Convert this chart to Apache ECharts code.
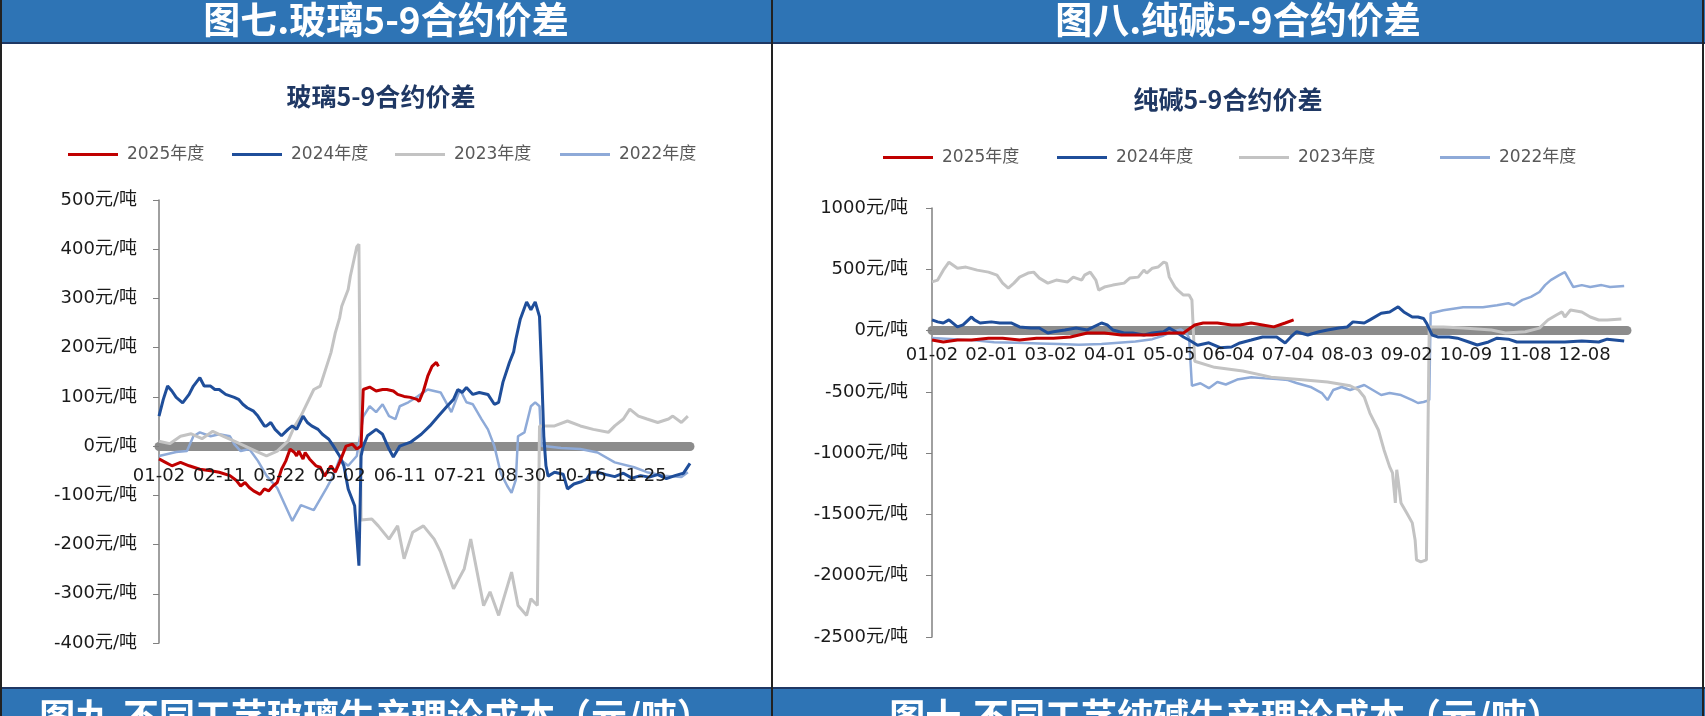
<!DOCTYPE html>
<html><head><meta charset="utf-8">
<script src="https://cdn.jsdelivr.net/npm/echarts@6/dist/echarts.min.js"></script>
<style>html,body{margin:0;padding:0;background:#fff}#c{width:1705px;height:716px}</style>
</head><body><div id="c"></div>
<script>
// ---------- tick labels ----------
const glassLabels = ['01-02','02-11','03-22','05-02','06-11','07-21','08-30','10-16','11-25'];
const sodaLabels = ['01-02','02-01','03-02','04-01','05-05','06-04','07-04','08-03','09-02','10-09','11-08','12-08'];
const seriesNames = ['2025年度','2024年度','2023年度','2022年度'];

// ---------- glass 5-9 spread [trading-day index, yuan/t] ----------
const glass2025 = [[0,-26],[3,-33],[6,-40],[10,-33],[14,-40],[19,-47],[24,-50],[28,-53],[33,-60],[36,-70],[38,-81],[40,-74],[42,-84],[44,-91],[47,-98],[49,-87],[51,-91],[53,-81],[55,-74],[57,-47],[59,-30],[61,-6],[63,-13],[64,-20],[65,-10],[67,-26],[68,-13],[70,-26],[73,-40],[75,-43],[77,-61],[80,-40],[82,-53],[84,-33],[87,0],[90,4],[92,-6],[94,0],[95,115],[98,120],[101,112],[104,115],[106,115],[109,112],[111,105],[114,101],[117,99],[120,95],[121,91],[123,112],[125,142],[127,162],[129,170],[130,162]];
const glass2024 = [[0,61],[2,95],[4,122],[6,112],[8,99],[11,88],[14,105],[16,122],[19,139],[21,122],[24,122],[26,115],[28,115],[31,105],[35,99],[37,95],[39,85],[41,78],[44,71],[46,61],[49,41],[50,41],[52,48],[54,34],[57,21],[60,34],[62,41],[64,34],[67,61],[69,48],[71,41],[74,34],[76,24],[79,14],[81,1],[84,-20],[86,-40],[88,-87],[91,-121],[93,-243],[94,-20],[95,0],[97,21],[101,34],[104,24],[107,-6],[109,-22],[112,0],[117,8],[122,24],[126,41],[130,61],[134,81],[137,95],[139,115],[141,109],[143,119],[146,105],[149,109],[153,105],[156,85],[158,89],[160,130],[163,170],[165,192],[166,217],[168,257],[171,293],[173,277],[175,293],[177,263],[178,150],[179,20],[180,-40],[181,-61],[184,-53],[188,-57],[190,-87],[193,-77],[196,-73],[199,-67],[201,-53],[204,-53],[208,-58],[212,-62],[216,-55],[220,-65],[224,-60],[228,-63],[232,-58],[236,-66],[240,-60],[244,-55],[247,-35]];
const glass2023 = [[0,10],[5,5],[10,20],[15,25],[20,15],[25,30],[30,20],[35,10],[40,0],[45,-10],[50,-20],[55,-10],[60,10],[63,40],[66,61],[72,115],[75,122],[80,190],[82,230],[84,260],[85,284],[88,318],[89,345],[90,365],[92,405],[93,410],[94,-150],[99,-148],[102,-162],[107,-189],[111,-162],[114,-229],[118,-175],[123,-162],[128,-189],[131,-215],[137,-290],[142,-249],[145,-189],[151,-324],[154,-296],[158,-344],[164,-256],[167,-324],[171,-344],[173,-310],[176,-324],[177,41],[179,41],[184,41],[190,51],[196,41],[202,34],[209,28],[212,41],[216,55],[219,75],[223,61],[227,55],[232,48],[237,55],[239,61],[243,48],[246,61]];
const glass2022 = [[0,-20],[8,-12],[13,-10],[16,20],[19,28],[24,20],[28,24],[33,20],[35,4],[38,-10],[42,-6],[46,-30],[50,-60],[55,-85],[62,-152],[66,-120],[72,-130],[78,-85],[81,-61],[84,-26],[88,-40],[92,-20],[95,60],[98,81],[101,69],[104,85],[107,61],[110,55],[112,81],[116,89],[120,100],[125,115],[131,109],[136,69],[140,115],[143,89],[146,85],[150,55],[153,34],[156,0],[159,-55],[162,-81],[164,-95],[166,-68],[167,20],[170,28],[173,81],[175,89],[177,81],[178,0],[179,0],[187,-4],[196,-6],[204,-13],[212,-33],[221,-43],[227,-53],[235,-60],[243,-63],[246,-53]];

// ---------- soda ash 5-9 spread ----------
const soda2025 = [[0,-77],[4,-93],[9,-77],[14,-77],[20,-62],[25,-62],[31,-77],[37,-62],[43,-62],[49,-52],[55,-20],[61,-20],[67,-36],[73,-36],[78,-36],[84,-20],[89,-20],[93,46],[96,62],[101,62],[106,46],[109,46],[113,62],[117,46],[121,30],[125,62],[128,87]];
const soda2024 = [[0,87],[2,71],[4,62],[6,87],[9,30],[11,46],[14,111],[15,87],[17,62],[21,71],[24,62],[28,62],[31,30],[35,21],[38,21],[41,-20],[43,-10],[47,5],[51,21],[55,5],[60,62],[62,46],[64,5],[68,-20],[71,-20],[75,-36],[78,-20],[82,-10],[84,21],[87,-20],[89,-52],[91,-77],[94,-120],[98,-100],[102,-140],[106,-134],[109,-101],[113,-77],[117,-52],[122,-52],[125,-101],[127,-52],[129,-10],[133,-36],[137,-10],[140,5],[144,21],[147,30],[149,71],[153,62],[155,87],[159,141],[162,152],[165,194],[167,152],[170,111],[172,111],[174,98],[175,62],[177,-36],[179,-52],[183,-52],[186,-62],[190,-93],[193,-118],[197,-93],[200,-62],[204,-70],[207,-93],[212,-93],[218,-93],[224,-93],[230,-85],[236,-93],[239,-70],[245,-85]];
const soda2023 = [[0,397],[2,412],[4,493],[6,558],[9,509],[12,518],[16,493],[20,477],[23,452],[25,387],[27,347],[29,387],[31,436],[34,469],[36,477],[38,428],[41,387],[44,412],[48,397],[50,436],[53,412],[54,452],[56,477],[58,412],[59,330],[61,355],[64,371],[68,387],[70,428],[73,436],[75,493],[76,469],[78,509],[80,518],[82,558],[83,550],[84,436],[86,355],[87,330],[89,290],[91,290],[92,250],[93,-250],[100,-300],[110,-330],[120,-380],[130,-400],[140,-420],[148,-450],[151,-485],[153,-542],[155,-673],[158,-811],[160,-974],[162,-1112],[163,-1161],[164,-1406],[164.5,-1136],[165,-1218],[166,-1406],[168,-1487],[170,-1569],[171,-1708],[171.5,-1871],[173,-1887],[175,-1871],[176,30],[177,30],[181,30],[188,20],[198,5],[203,-20],[210,-10],[215,20],[218,86],[221,127],[223,152],[224,111],[226,168],[230,152],[233,111],[236,86],[239,86],[244,94]];
const soda2022 = [[0,-60],[8,-70],[15,-80],[22,-95],[30,-100],[38,-105],[45,-110],[52,-115],[60,-110],[66,-100],[72,-90],[78,-70],[82,-40],[85,-10],[88,10],[90,-20],[91,-60],[92,-450],[95,-430],[98,-470],[101,-420],[104,-440],[108,-400],[113,-380],[118,-390],[122,-395],[126,-404],[129,-428],[134,-460],[138,-510],[140,-567],[142,-485],[145,-460],[148,-485],[153,-444],[156,-485],[159,-526],[162,-510],[166,-526],[170,-567],[172,-591],[174,-583],[176,-567],[176.5,141],[181,166],[188,190],[195,190],[200,207],[204,223],[206,207],[209,250],[212,275],[215,315],[217,371],[219,412],[222,452],[224,477],[225,436],[227,355],[230,371],[233,355],[237,371],[240,355],[245,363]];

const colors = ['#c00000','#1f4e9a','#c3c3c3','#8eaad8'];
const widths = [3,3,3,2.5];

const chart = echarts.init(document.getElementById('c'));
const FONT = '"DejaVu Sans", "Noto Sans CJK SC", sans-serif';

function mkSeries(arrs, idx){
  return arrs.map((d,k)=>({
    name: seriesNames[k], type:'line', xAxisIndex: idx, yAxisIndex: idx,
    data: d, showSymbol:false, symbol:'none', animation:false,
    lineStyle:{color:colors[k], width:widths[k]}, itemStyle:{color:colors[k]},
    z: 10 - k
  }));
}
function mkLegend(name, left, top){
  return {data:[name], left:left, top:top, icon:'rect', itemWidth:50, itemHeight:3,
    selectedMode:false, textStyle:{fontSize:17, color:'#595959', fontFamily:FONT, padding:[0,0,0,4]}};
}
const gLeft=[63,227,390,555], sLeft=[878,1052,1234,1435];

// grid geometry
const G0 = {left:159, top:200, width:531, height:443, min:-400, max:500};
const G1 = {left:932, top:208, width:695, height:429, min:-2500, max:1000};
function zeroOffset(g){ return -(g.height * (0 - g.min) / (g.max - g.min)); }
const glassFmt = v=>{const k=v/28; return Number.isInteger(k)&&k<glassLabels.length?glassLabels[k]:'';};
const sodaFmt = v=>{const k=v/21; return Number.isInteger(k)&&k<sodaLabels.length?sodaLabels[k]:'';};

function bandAxis(grid, g, max, interval){
  return {type:'value', gridIndex:grid, min:0, max:max, interval:interval, position:'bottom', offset:zeroOffset(g),
    axisLine:{onZero:false, lineStyle:{color:'#8c8c8c', width:9}}, axisTick:{show:false}, splitLine:{show:false},
    axisLabel:{show:false}};
}
function labelAxis(grid, g, max, interval, margin, fmt){
  return {type:'value', gridIndex:grid, min:0, max:max, interval:interval, position:'bottom', offset:zeroOffset(g), z:30,
    axisLine:{show:false, onZero:false}, axisTick:{show:false}, splitLine:{show:false},
    axisLabel:{margin:margin, fontSize:18, color:'#1a1a1a', fontFamily:FONT, formatter:fmt}};
}

const option = {
  backgroundColor:'#ffffff',
  animation:false,
  grid:[
    {left:G0.left, top:G0.top, width:G0.width, height:G0.height},
    {left:G1.left, top:G1.top, width:G1.width, height:G1.height}
  ],
  legend: seriesNames.map((n,k)=>mkLegend(n,gLeft[k],141)).concat(seriesNames.map((n,k)=>mkLegend(n,sLeft[k],144))),
  xAxis:[
    bandAxis(0, G0, 247, 28),
    bandAxis(1, G1, 246, 21),
    labelAxis(0, G0, 247, 28, 21, glassFmt),
    labelAxis(1, G1, 246, 21, 16, sodaFmt)
  ],
  yAxis:[
    {type:'value', gridIndex:0, min:G0.min, max:G0.max, interval:100,
     axisLine:{show:true, onZero:false, lineStyle:{color:'#808080', width:1.5}},
     axisTick:{show:true, length:6, lineStyle:{color:'#808080'}}, splitLine:{show:false},
     axisLabel:{margin:22, fontSize:18, color:'#1a1a1a', fontFamily:FONT, formatter:v=>v+'元/吨'}},
    {type:'value', gridIndex:1, min:G1.min, max:G1.max, interval:500,
     axisLine:{show:true, onZero:false, lineStyle:{color:'#808080', width:1.5}},
     axisTick:{show:true, length:6, lineStyle:{color:'#808080'}}, splitLine:{show:false},
     axisLabel:{margin:24, fontSize:18, color:'#1a1a1a', fontFamily:FONT, formatter:v=>v+'元/吨'}}
  ],
  series: mkSeries([glass2025,glass2024,glass2023,glass2022],0).concat(mkSeries([soda2025,soda2024,soda2023,soda2022],1)),
  graphic:[
    {type:'rect', shape:{x:0,y:0,width:1705,height:43}, style:{fill:'#2e74b5'}, z:100},
    {type:'rect', shape:{x:0,y:42,width:1705,height:2}, style:{fill:'#1f3864'}, z:101},
    {type:'rect', shape:{x:0,y:688,width:1705,height:28}, style:{fill:'#2e74b5'}, z:100},
    {type:'rect', shape:{x:0,y:687,width:1705,height:2}, style:{fill:'#1f3864'}, z:101},
    {type:'rect', shape:{x:0,y:0,width:2,height:716}, style:{fill:'#222'}, z:102},
    {type:'rect', shape:{x:771,y:0,width:2,height:716}, style:{fill:'#222'}, z:102},
    {type:'rect', shape:{x:1702,y:0,width:2,height:716}, style:{fill:'#222'}, z:102},
    {type:'text', x:386, y:20, z:103, style:{text:'图七.玻璃5-9合约价差', fill:'#fff', font:'bold 37px "Noto Sans CJK SC"', textAlign:'center', textVerticalAlign:'middle'}},
    {type:'text', x:1238, y:20, z:103, style:{text:'图八.纯碱5-9合约价差', fill:'#fff', font:'bold 37px "Noto Sans CJK SC"', textAlign:'center', textVerticalAlign:'middle'}},
    {type:'text', x:376, y:716, z:103, style:{text:'图九.不同工艺玻璃生产理论成本（元/吨）', fill:'#fff', font:'bold 36px "Noto Sans CJK SC"', textAlign:'center', textVerticalAlign:'middle'}},
    {type:'text', x:1226, y:716, z:103, style:{text:'图十.不同工艺纯碱生产理论成本（元/吨）', fill:'#fff', font:'bold 36px "Noto Sans CJK SC"', textAlign:'center', textVerticalAlign:'middle'}},
    {type:'text', x:381, y:96, z:103, style:{text:'玻璃5-9合约价差', fill:'#1f3864', font:'bold 25px "Noto Sans CJK SC"', textAlign:'center', textVerticalAlign:'middle'}},
    {type:'text', x:1228, y:99, z:103, style:{text:'纯碱5-9合约价差', fill:'#1f3864', font:'bold 25px "Noto Sans CJK SC"', textAlign:'center', textVerticalAlign:'middle'}}
  ]
};
chart.setOption(option);
</script></body></html>
